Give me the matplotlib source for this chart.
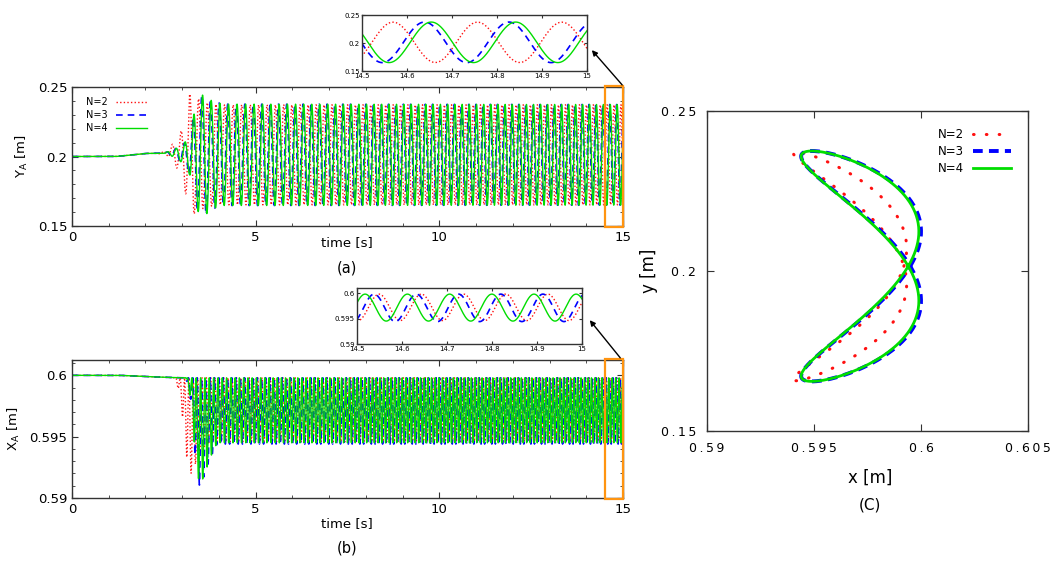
import numpy as np
import matplotlib
matplotlib.use("Agg")
import matplotlib.pyplot as plt
from matplotlib.patches import Rectangle
from matplotlib.ticker import MultipleLocator, FuncFormatter

# --- values ---
series = ["N=2", "N=3", "N=4"]
colors = ["#ff1010", "#0000ff", "#00dd00"]

# Y_A: mean position (panel a)
y_mid_t = [0, 1.2, 2.0, 2.7, 3.2, 4.0, 15]
y_mid = [0.2, 0.2, 0.2022, 0.2025, 0.201, 0.2012, 0.2012]
# Y_A: oscillation amplitude envelope per series
y_amp_t = [[0, 2.3, 2.6, 2.9, 3.05, 3.2, 3.35, 3.6, 4.0, 15],
           [0, 2.5, 2.7, 3.0, 3.2, 3.4, 3.6, 3.8, 4.1, 15],
           [0, 2.5, 2.7, 3.0, 3.2, 3.4, 3.6, 3.8, 4.1, 15]]
y_amp = [[0, 0, 0.002, 0.012, 0.022, 0.044, 0.042, 0.038, 0.036, 0.036],
         [0, 0, 0.002, 0.006, 0.014, 0.040, 0.044, 0.039, 0.0365, 0.0362],
         [0, 0, 0.002, 0.006, 0.014, 0.040, 0.044, 0.039, 0.0365, 0.0362]]

# X_A: upper level and dip depth (panel b)
x_top_t = [0, 1.3, 2.0, 2.9, 3.5, 15]
x_top = [0.6, 0.6, 0.5999, 0.5998, 0.5998, 0.5998]
x_dip_t = [[0, 2.8, 2.95, 3.1, 3.2, 3.3, 3.5, 3.8, 15],
           [0, 3.1, 3.25, 3.35, 3.47, 3.6, 3.75, 3.95, 15],
           [0, 3.1, 3.25, 3.35, 3.47, 3.6, 3.75, 3.95, 15]]
x_dip = [[0, 0, 0.0015, 0.006, 0.008, 0.0075, 0.006, 0.0052, 0.0052],
         [0, 0, 0.002, 0.0063, 0.0088, 0.008, 0.0066, 0.0054, 0.0054],
         [0, 0, 0.002, 0.0063, 0.0088, 0.008, 0.0066, 0.0053, 0.0053]]

# oscillation period of Y_A over time
period_t = [3.0, 5.0, 9.0, 15.0]
period = [0.24, 0.23, 0.2, 0.187]

# peak times seen in the zoomed insets
y_peak = [14.569, 14.639, 14.654]
x_peak = [14.643, 14.632, 14.612]

# trajectory loops of panel (C)
c_yc = [0.2015, 0.2015, 0.2015]
c_ya = [0.0358, 0.036, 0.036]
c_xc = [0.59668, 0.5972, 0.59715]
c_xa = [0.00265, 0.0028, 0.00275]
c_phi = [72, 55, 55]

# --- build time histories ---
t = np.arange(0, 15.0005, 0.001)
T = np.interp(t, period_t, period)
ph = 2 * np.pi * np.cumsum(1.0 / T) * 0.001
ya_list, xa_list = [], []
for i in range(3):
    p0 = np.interp(y_peak[i], t, ph)
    px = np.interp(x_peak[i], t, ph)
    ya = np.interp(t, y_mid_t, y_mid) + np.interp(t, y_amp_t[i], y_amp[i]) * np.cos(ph - p0)
    xa = np.interp(t, x_top_t, x_top) - np.interp(t, x_dip_t[i], x_dip[i]) * (1 - np.cos(2 * (ph - px))) / 2
    ya_list.append(ya)
    xa_list.append(xa)

W, H = 1050, 564
fig = plt.figure(figsize=(10.5, 5.64), dpi=100)

def box(x0, y0, x1, y1):
    return [x0 / W, 1 - y1 / H, (x1 - x0) / W, (y1 - y0) / H]

line_kw = [dict(ls=(0, (1, 1.6)), lw=1.0), dict(ls=(0, (4, 3)), lw=1.2), dict(ls="-", lw=1.0)]
frame = "#333333"

def style(ax, size):
    for s in ax.spines.values():
        s.set_color(frame)
        s.set_linewidth(1.0)
    ax.tick_params(which="both", direction="in", top=True, right=True, labelsize=size, colors=frame, labelcolor="black")
    ax.tick_params(which="major", length=4)
    ax.tick_params(which="minor", length=2.5)

ax_a = fig.add_axes(box(72, 87, 623, 226))
ax_b = fig.add_axes(box(72, 360, 623, 498))
for ax, data in ((ax_a, ya_list), (ax_b, xa_list)):
    for i in range(3):
        ax.plot(t, data[i], color=colors[i], label=series[i], **line_kw[i])
    ax.set_xlim(0, 15)
    ax.xaxis.set_major_locator(MultipleLocator(5))
    ax.xaxis.set_minor_locator(MultipleLocator(1))
    style(ax, 9.5)
    ax.add_patch(Rectangle((14.5, -0.005), 0.5, 1.01, transform=ax.get_xaxis_transform(),
                           fill=False, edgecolor="#ff9410", lw=1.6, clip_on=False, zorder=5))

ax_a.set_ylim(0.15, 0.25)
ax_a.set_yticks([0.15, 0.2, 0.25])
ax_a.set_yticklabels(["0.15", "0.2", "0.25"])
ax_a.yaxis.set_minor_locator(MultipleLocator(0.01))
ax_a.set_ylabel("Y$_\\mathregular{A}$ [m]", fontsize=9.5)
ax_a.yaxis.set_label_coords(-0.076, 0.5)
ax_a.legend(loc="upper left", bbox_to_anchor=(0.01, 0.99), frameon=False, fontsize=7,
            markerfirst=False, handlelength=3.2, labelspacing=0.3)

ax_b.set_ylim(0.59, 0.60125)
ax_b.set_yticks([0.59, 0.595, 0.6])
ax_b.set_yticklabels(["0.59", "0.595", "0.6"])
ax_b.yaxis.set_minor_locator(MultipleLocator(0.001))
ax_b.set_ylabel("X$_\\mathregular{A}$ [m]", fontsize=9.5)
ax_b.yaxis.set_label_coords(-0.09, 0.5)

fig.text(347 / W, 1 - 243 / H, "time [s]", ha="center", va="center", fontsize=9.5)
fig.text(347 / W, 1 - 268 / H, "(a)", ha="center", va="center", fontsize=10.5)
fig.text(347 / W, 1 - 524 / H, "time [s]", ha="center", va="center", fontsize=9.5)
fig.text(347 / W, 1 - 548 / H, "(b)", ha="center", va="center", fontsize=10.5)

# insets
in_a = fig.add_axes(box(362, 15, 587, 71))
in_b = fig.add_axes(box(357, 288, 582, 344))
for ax, data in ((in_a, ya_list), (in_b, xa_list)):
    for i in range(3):
        ax.plot(t, data[i], color=colors[i], **line_kw[i])
    ax.set_xlim(14.5, 15)
    ax.set_xticks([14.5, 14.6, 14.7, 14.8, 14.9, 15])
    ax.set_xticklabels(["14.5", "14.6", "14.7", "14.8", "14.9", "15"])
    style(ax, 5)
    ax.tick_params(which="major", length=2, pad=1.5)
in_a.set_ylim(0.15, 0.25)
in_a.set_yticks([0.15, 0.2, 0.25])
in_a.set_yticklabels(["0.15", "0.2", "0.25"])
in_b.set_ylim(0.59, 0.601)
in_b.set_yticks([0.59, 0.595, 0.6])
in_b.set_yticklabels(["0.59", "0.595", "0.6"])

for head, tail in (((590, 48), (624, 87)), ((588, 318), (622, 360))):
    fig.add_artist(plt.Annotation("", xy=(head[0] / W, 1 - head[1] / H), xycoords="figure fraction",
                                  xytext=(tail[0] / W, 1 - tail[1] / H), textcoords="figure fraction",
                                  arrowprops=dict(arrowstyle="-|>", color="black", lw=1.0, mutation_scale=8)))

# panel (C)
ax_c = fig.add_axes(box(707, 111, 1028, 431))
th = np.linspace(0, 2 * np.pi, 721)
c_kw = [dict(ls=(0, (0.2, 4.0)), lw=2.2, dash_capstyle="round"),
        dict(ls=(0, (2.5, 1.6)), lw=2.8),
        dict(ls="-", lw=2.0)]
for i in range(3):
    cx = c_xc[i] + c_xa[i] * np.sin(2 * th + np.radians(c_phi[i]))
    cy = c_yc[i] + c_ya[i] * np.sin(th)
    ax_c.plot(cx, cy, color=colors[i], label=series[i], **c_kw[i])
ax_c.set_xlim(0.59, 0.605)
ax_c.set_ylim(0.15, 0.25)
ax_c.set_xticks([0.59, 0.595, 0.6, 0.605])
ax_c.set_yticks([0.15, 0.2, 0.25])
spaced = FuncFormatter(lambda v, p: "\u2009".join(f"{v:g}"))
ax_c.xaxis.set_major_formatter(spaced)
ax_c.yaxis.set_major_formatter(spaced)
style(ax_c, 9)
ax_c.tick_params(which="major", length=5, pad=8)
ax_c.legend(loc="upper right", bbox_to_anchor=(0.98, 0.98), frameon=False, fontsize=8.5,
            markerfirst=False, handlelength=3.2, labelspacing=0.35)
ax_c.set_ylabel("y [m]", fontsize=12)
ax_c.yaxis.set_label_coords(-0.153, 0.5)
fig.text(870 / W, 1 - 478 / H, "x [m]", ha="center", va="center", fontsize=12)
fig.text(870 / W, 1 - 505 / H, "(C)", ha="center", va="center", fontsize=11)

fig.savefig("out.png", dpi=100)
